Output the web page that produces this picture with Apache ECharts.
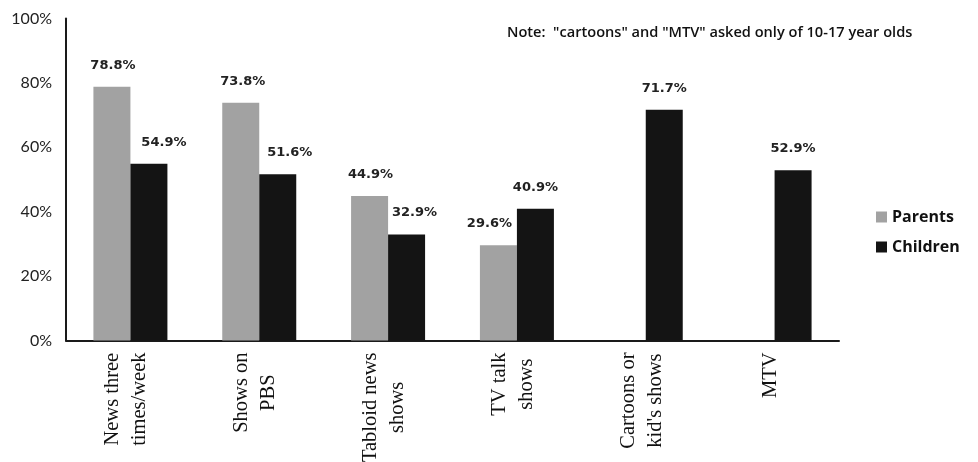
<!DOCTYPE html>
<html><head><meta charset="utf-8">
<script src="https://cdn.jsdelivr.net/npm/echarts@6/dist/echarts.min.js"></script>
<style>html,body{margin:0;padding:0;background:#fff}#c{width:978px;height:462px}</style>
</head><body><div id="c"></div>
<script>
const categories = ["News three\ntimes/week", "Shows on\nPBS", "Tabloid news\nshows", "TV talk\nshows", "Cartoons or\nkid's shows", "MTV"];
const parents = [78.8, 73.8, 44.9, 29.6, null, null];
const children = [54.9, 51.6, 32.9, 40.9, 71.7, 52.9];
const yTicks = [0, 20, 40, 60, 80, 100];
const noteText = 'Note:  "cartoons" and "MTV" asked only of 10-17 year olds';

const chart = echarts.init(document.getElementById('c'), null, {renderer: 'canvas'});
const parentNudge = [1, 2, 1, -9, 0, 0];
const childNudge = [15, 12, 8, 0, 0, 0];
function withNudge(vals, nudges) {
  return vals.map((v, i) => v == null ? null : {value: v, label: {offset: [nudges[i], 0]}});
}
const labelStyle = {
  show: true, position: 'top', distance: 15,
  fontFamily: 'DejaVu Sans', fontWeight: 'bold', fontSize: 13, color: '#222',
  formatter: p => p.value.toFixed(1) + '%'
};
chart.setOption({
  animation: false,
  backgroundColor: '#fff',
  title: {
    text: noteText, left: 502, top: 20,
    textStyle: {fontFamily: 'Open Sans', fontWeight: 600, fontSize: 14.6, color: '#111'}
  },
  legend: {
    data: ['Parents', 'Children'], orient: 'vertical', left: 871, top: 204,
    icon: 'rect', itemWidth: 11, itemHeight: 11, itemGap: 14,
    textStyle: {fontFamily: 'Open Sans', fontWeight: 'bold', fontSize: 16, color: '#111'}
  },
  grid: {left: 66, width: 773, top: 18.5, height: 322, containLabel: false, outerBoundsMode: 'none'},
  xAxis: {
    type: 'category', data: categories,
    axisLine: {lineStyle: {color: '#1a1a1a', width: 2}},
    axisTick: {show: false},
    axisLabel: {
      rotate: 90, margin: 12, interval: 0,
      padding: [0, 0, 8, 0],
      formatter: v => v.split('\n').map(s => '{c|' + s + '}').join('\n'),
      rich: {c: {align: 'center', fontFamily: 'Liberation Serif', fontSize: 20.5, lineHeight: 27, color: '#111'}}
    }
  },
  yAxis: {
    type: 'value', min: 0, max: 100, interval: 20,
    splitLine: {show: false},
    axisLine: {show: true, lineStyle: {color: '#1a1a1a', width: 2}},
    axisTick: {show: false},
    axisLabel: {
      margin: 14, fontFamily: 'Lato', fontSize: 16, color: '#222',
      formatter: v => yTicks.includes(v) ? v + '%' : ''
    }
  },
  series: [
    {name: 'Parents', type: 'bar', data: withNudge(parents, parentNudge), barWidth: 37, barGap: '0%',
     itemStyle: {color: '#a2a2a2'}, label: labelStyle},
    {name: 'Children', type: 'bar', data: withNudge(children, childNudge), barWidth: 37, barGap: '0%',
     itemStyle: {color: '#141414'}, label: labelStyle}
  ]
});
</script></body></html>
